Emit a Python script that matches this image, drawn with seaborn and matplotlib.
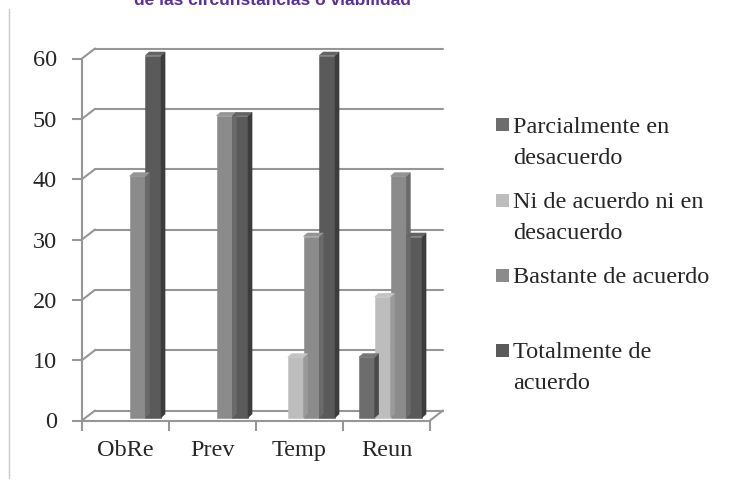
import numpy as np
import pandas as pd
import seaborn as sns
import matplotlib.pyplot as plt
from matplotlib.patches import Polygon, Rectangle

# data
categories = ['ObRe', 'Prev', 'Temp', 'Reun']
series = ['Parcialmente en\ndesacuerdo', 'Ni de acuerdo ni en\ndesacuerdo',
          'Bastante de acuerdo', 'Totalmente de\nacuerdo']
parcialmente = [0, 0, 0, 10]
ni_acuerdo = [0, 0, 10, 20]
bastante = [40, 50, 30, 40]
totalmente = [60, 50, 60, 30]
yticks = [0, 10, 20, 30, 40, 50, 60]

front_colors = ['#6d6d6d', '#bdbdbd', '#8b8b8b', '#5a5a5a']
side_colors = ['#4a4a4a', '#9a9a9a', '#6a6a6a', '#3c3c3c']
top_colors = ['#777777', '#c4c4c4', '#949494', '#636363']
grid_color = '#969696'

df = pd.DataFrame({
    'cat': categories * 4,
    'serie': np.repeat(series, 4),
    'valor': parcialmente + ni_acuerdo + bastante + totalmente,
})

sns.set_style('white')
plt.rcParams['font.family'] = ['Liberation Serif', 'DejaVu Serif']
fs = 17.5

fig = plt.figure(figsize=(7.31, 4.83), dpi=100)
ax = fig.add_axes([82 / 731, 62.5 / 483, 348 / 731, 362 / 483])

sns.barplot(data=df, x='cat', y='valor', hue='serie', hue_order=series,
            order=categories, palette=front_colors, saturation=1,
            width=0.725, linewidth=0, legend=False, ax=ax, zorder=3)

ax.set_xlim(-0.5, 3.5)
ax.set_ylim(0, 60)

# pixel -> data conversions (fixed axes size)
px_x = 348 / 4
px_y = 362 / 60
wall_dx, wall_dy = 13 / px_x, 10 / px_y     # depth of the whole box
bar_dx, bar_dy = 4 / px_x, 3.5 / px_y       # depth of each bar
shift_x, shift_y = 4 / px_x, 3 / px_y       # bars sit a bit behind the front

# back wall grid + left wall diagonals
for v in yticks:
    ax.plot([-0.5 + wall_dx, 3.5 + wall_dx], [v + wall_dy, v + wall_dy],
            color=grid_color, lw=1.5, clip_on=False, zorder=1)
    ax.plot([-0.5, -0.5 + wall_dx], [v, v + wall_dy],
            color=grid_color, lw=1.5, clip_on=False, zorder=1)
ax.plot([3.5, 3.5 + wall_dx], [0, wall_dy], color=grid_color, lw=1.5,
        clip_on=False, zorder=1)

# fake 3d faces for each bar
n_cat = len(categories)
for i, patch in enumerate(ax.patches[:]):
    h = patch.get_height()
    if h <= 0:
        patch.set_visible(False)
        continue
    s = i // n_cat
    x0 = patch.get_x() + shift_x
    w = patch.get_width()
    y0 = shift_y
    patch.set_x(x0)
    patch.set_y(y0)
    patch.set_clip_on(False)
    patch.set_edgecolor(front_colors[s])
    patch.set_linewidth(0.4)
    side = Polygon([(x0 + w, y0), (x0 + w + bar_dx, y0 + bar_dy),
                    (x0 + w + bar_dx, y0 + h + bar_dy), (x0 + w, y0 + h)],
                   closed=True, facecolor=side_colors[s], edgecolor=side_colors[s],
                   lw=0.4, zorder=3, clip_on=False)
    top = Polygon([(x0, y0 + h), (x0 + w, y0 + h),
                   (x0 + w + bar_dx, y0 + h + bar_dy), (x0 + bar_dx, y0 + h + bar_dy)],
                  closed=True, facecolor=top_colors[s], edgecolor=top_colors[s],
                  lw=0.4, zorder=3, clip_on=False)
    ax.add_patch(side)
    ax.add_patch(top)

# axes styling
for sp in ['top', 'right']:
    ax.spines[sp].set_visible(False)
for sp in ['left', 'bottom']:
    ax.spines[sp].set_color(grid_color)
    ax.spines[sp].set_linewidth(1.5)
    ax.spines[sp].set_zorder(2)

ax.set_yticks(yticks)
ax.set_xticks(range(n_cat))
ax.set_xticklabels(categories)
ax.set_xticks([-0.5, 0.5, 1.5, 2.5, 3.5], minor=True)
ax.tick_params(axis='y', direction='out', length=7, width=1.5, color=grid_color,
               labelsize=fs, pad=11, left=True)
ax.tick_params(axis='x', which='major', length=0, labelsize=fs, pad=14)
ax.tick_params(axis='x', which='minor', direction='out', length=7, width=1.5,
               color=grid_color, bottom=True)
ax.set_xlabel('')
ax.set_ylabel('')
ax.grid(False)

# legend in the style of the original (marker aligned with first line)
for i, lab in enumerate(series):
    yc = 125 + 75 * i
    fig.patches.append(Rectangle((496 / 731, 1 - (yc + 6.5) / 483), 13 / 731, 13 / 483,
                                 transform=fig.transFigure, facecolor=front_colors[i],
                                 edgecolor='none'))
    for j, line in enumerate(lab.split('\n')):
        fig.text(513 / 731, 1 - (yc + 8 + 31 * j) / 483, line, fontsize=fs,
                 va='baseline', ha='left')

# title cut by the top of the picture
fig.text(272 / 731, 1 - 5 / 483, 'de las circunstancias o viabilidad',
         ha='center', va='baseline', fontsize=12.5, fontweight='bold',
         color='#5c2fa0', family=['Liberation Sans', 'DejaVu Sans'])

# thin frame line at the left
fig.add_artist(plt.Line2D([9 / 731, 9 / 731], [1 - 9 / 483, 1 - 478 / 483],
                          color='#c8c8c8', lw=1))

fig.savefig('out.png', dpi=100)
